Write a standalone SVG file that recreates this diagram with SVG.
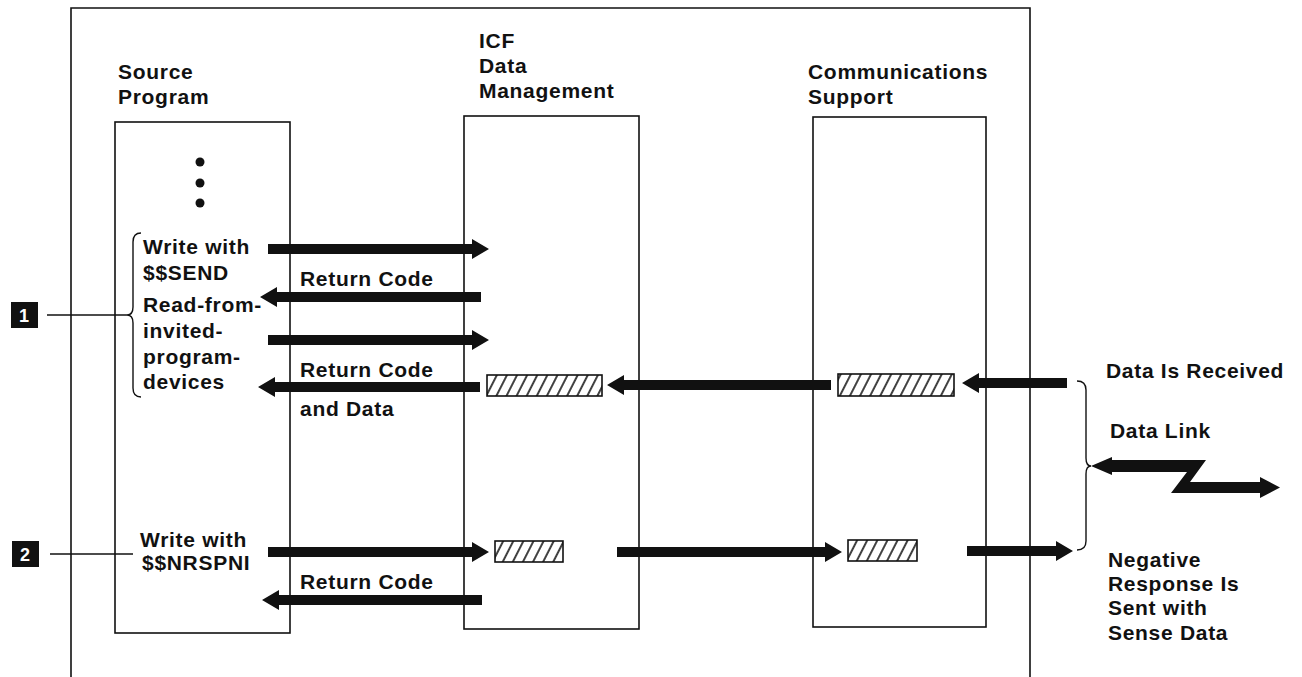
<svg xmlns="http://www.w3.org/2000/svg" width="1302" height="677" viewBox="0 0 1302 677">
<style>
text{font-family:"Liberation Sans",Arial,sans-serif;font-weight:bold;font-size:21px;fill:#111;letter-spacing:0.7px}
.box{fill:none;stroke:#111;stroke-width:1.6}
.arrow{fill:#111;stroke:none}
.thin{fill:none;stroke:#111;stroke-width:1.4}
.hatch{fill:url(#hatch);stroke:#111;stroke-width:1.6}
.num{fill:#111}
.numt{fill:#fff;font-size:18px;letter-spacing:0}
</style>
<defs>
<pattern id="hatch" patternUnits="userSpaceOnUse" width="9" height="10" patternTransform="rotate(27)">
<rect width="9" height="10" fill="#fff"/>
<line x1="1" y1="0" x2="1" y2="10" stroke="#111" stroke-width="1.6"/>
</pattern>
</defs>
<rect width="1302" height="677" fill="#fff"/>
<g id="frame">
<path class="box" d="M71,677 V8 H1030 V677"/>
</g>
<g id="source-program">
<text x="118" y="79">Source</text>
<text x="118" y="104">Program</text>
<rect class="box" x="115" y="122" width="175" height="511"/>
<circle cx="200" cy="162" r="4.5" fill="#111"/>
<circle cx="200" cy="183" r="4.5" fill="#111"/>
<circle cx="200" cy="203" r="4.5" fill="#111"/>
<text x="143" y="254">Write with</text>
<text x="143" y="280">$$SEND</text>
<text x="143" y="312">Read-from-</text>
<text x="143" y="338">invited-</text>
<text x="143" y="364">program-</text>
<text x="143" y="389">devices</text>
<path class="thin" d="M141,233 Q133,233 133,242 L133,307 Q133,315 127,315 Q133,315 133,323 L133,388 Q133,397 141,397"/>
<text x="140" y="547">Write with</text>
<text x="142" y="570">$$NRSPNI</text>
</g>
<g id="icf-data-management">
<text x="479" y="48">ICF</text>
<text x="479" y="73">Data</text>
<text x="479" y="98">Management</text>
<rect class="box" x="464" y="116" width="175" height="513"/>
<rect class="hatch" x="487" y="375" width="115" height="21"/>
<rect class="hatch" x="495" y="541" width="68" height="21"/>
</g>
<g id="communications-support">
<text x="808" y="79">Communications</text>
<text x="808" y="104">Support</text>
<rect class="box" x="813" y="117" width="173" height="510"/>
<rect class="hatch" x="838" y="374" width="116" height="22"/>
<rect class="hatch" x="848" y="540" width="69" height="21"/>
</g>
<g id="marker-1">
<rect class="num" x="11" y="302" width="27" height="26"/>
<text class="numt" x="19" y="322">1</text>
</g>
<g id="marker-2">
<rect class="num" x="12" y="541" width="27" height="26"/>
<text class="numt" x="20" y="561">2</text>
</g>
<g id="data-link">
<text x="1106" y="378">Data Is Received</text>
<text x="1110" y="438">Data Link</text>
<text x="1108" y="567">Negative</text>
<text x="1108" y="591">Response Is</text>
<text x="1108" y="615">Sent with</text>
<text x="1108" y="640">Sense Data</text>
<path class="thin" d="M1077,381 Q1086,381 1086,390 L1086,458 Q1086,466 1091,466 Q1086,466 1086,474 L1086,541 Q1086,550 1077,550"/>
<polygon class="arrow" points="1091,466 1112,457 1112,460 1206,460 1190,482 1260,482 1260,477 1280,487.5 1260,498 1260,493 1171,493 1187,472 1112,472 1112,475"/>
</g>
<g id="connectors">
<line class="thin" x1="47" y1="315" x2="127" y2="315"/>
<line class="thin" x1="50" y1="554" x2="133" y2="554"/>
<polygon class="arrow" points="268,244 472,244 472,239 489,249 472,259 472,254 268,254"/>
<polygon class="arrow" points="481,292 277,292 277,287 260,297 277,307 277,302 481,302"/>
<polygon class="arrow" points="268,335 472,335 472,330 489,340 472,350 472,345 268,345"/>
<polygon class="arrow" points="480,382 275,382 275,377 258,387 275,397 275,392 480,392"/>
<polygon class="arrow" points="831,380 624,380 624,375 607,385 624,395 624,390 831,390"/>
<polygon class="arrow" points="1067,378 979,378 979,373 962,383 979,393 979,388 1067,388"/>
<polygon class="arrow" points="268,547 472,547 472,542 489,552 472,562 472,557 268,557"/>
<polygon class="arrow" points="617,547 825,547 825,542 842,552 825,562 825,557 617,557"/>
<polygon class="arrow" points="967,546 1056,546 1056,541 1073,551 1056,561 1056,556 967,556"/>
<polygon class="arrow" points="482,595 279,595 279,590 262,600 279,610 279,605 482,605"/>
<text x="300" y="286">Return Code</text>
<text x="300" y="377">Return Code</text>
<text x="300" y="416">and Data</text>
<text x="300" y="589">Return Code</text>
</g>
</svg>
